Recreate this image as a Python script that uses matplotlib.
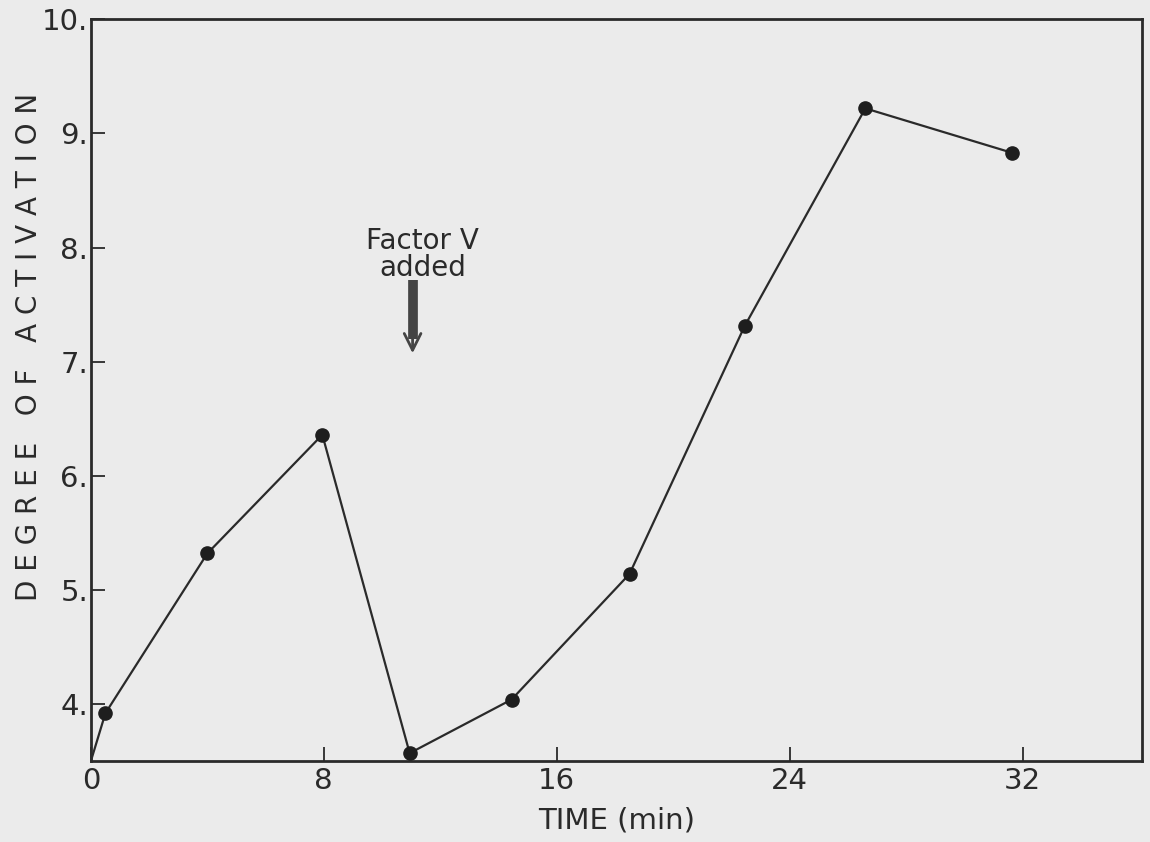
import matplotlib
matplotlib.use("Agg")
import matplotlib.pyplot as plt

# data
time_min = [0.0, 0.5, 4.0, 7.95, 10.95, 14.45, 18.5, 22.45, 26.6, 31.65]
activation = [3.5, 3.92, 5.32, 6.36, 3.57, 4.04, 5.14, 7.31, 9.22, 8.83]
xticks = [0, 8, 16, 24, 32]
yticks = [4, 5, 6, 7, 8, 9, 10]
ytick_labels = ["4.", "5.", "6.", "7.", "8.", "9.", "10."]

bg = "#ebebeb"
ink = "#2a2a2a"

fig = plt.figure(figsize=(11.5, 8.42), dpi=100, facecolor=bg)
ax = fig.add_axes([0.079, 0.096, 0.914, 0.881], facecolor=bg)

# line starts at the origin, markers only on measured points
ax.plot(time_min, activation, color=ink, lw=1.6, zorder=2)
ax.plot(time_min[1:], activation[1:], "o", color="#1e1e1e", ms=9.5, zorder=3)

ax.set_xlim(0, 36.1)
ax.set_ylim(3.5, 10)
ax.set_xticks(xticks)
ax.set_xticklabels([str(t) for t in xticks])
ax.set_yticks(yticks)
ax.set_yticklabels(ytick_labels)
ax.tick_params(direction="in", length=10, width=1.3, colors=ink, labelsize=21, pad=4)
ax.tick_params(axis="y", pad=2)
for s in ax.spines.values():
    s.set_color(ink)
    s.set_linewidth(2)

fig.text(0.5 * (91 + 1142) / 1150, 0.025, "TIME (min)", ha="center", va="center",
         fontsize=21, color=ink)
fig.text(0.025, 0.588, "D E G R E E   O F   A C T I V A T I O N", rotation=90,
         ha="center", va="center", fontsize=20, color=ink)

# arrow marking Factor V addition: thick shaft, open head
ax.plot([11.05, 11.05], [7.72, 7.2], color="#444444", lw=7, solid_capstyle="butt")
ax.annotate("", xy=(11.05, 7.05), xytext=(11.05, 7.4),
            arrowprops=dict(arrowstyle="->", color="#444444", lw=2,
                            mutation_scale=30))
ax.text(11.4, 7.94, "Factor V\nadded", ha="center", va="center",
        fontsize=20, color=ink, linespacing=0.95)

fig.savefig("out.png", dpi=100, facecolor=bg)
